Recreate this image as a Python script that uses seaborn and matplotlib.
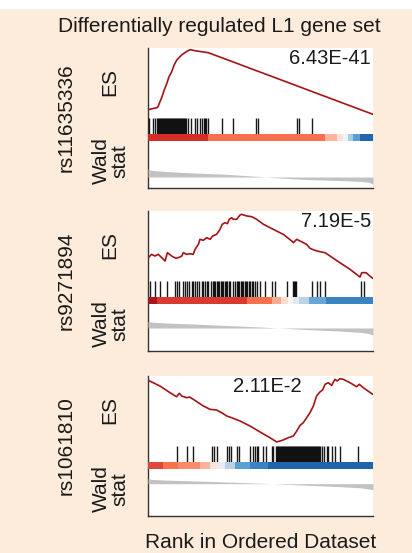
import numpy as np
import matplotlib
matplotlib.use('Agg')
import matplotlib.pyplot as plt
from matplotlib.patches import Rectangle
import seaborn as sns

sns.set_style('white')
plt.rcParams['font.family'] = ['Liberation Sans', 'DejaVu Sans']

# ---- data (rank position in % of ordered dataset) ----
snps = ['rs11635336', 'rs9271894', 'rs1061810']
pvals = ['6.43E-41', '7.19E-5', '2.11E-2']

# running enrichment score
es1_x = [0.4, 3.9, 4.4, 6.1, 7.1, 8.3, 9.3, 10.5, 11.6, 12.8, 15.0, 17.2, 18.7, 21.6, 26.8,
         32.9, 37.8, 48.0, 66.2, 72.9, 99.9]
es1_y = [0.0, 0.02, 0.03, 0.14, 0.22, 0.30, 0.38, 0.44, 0.52, 0.58, 0.64, 0.68, 0.70, 0.685, 0.665,
         0.605, 0.557, 0.456, 0.277, 0.21, -0.056]

es2_x = [0.15, 1.6, 3.1, 4.6, 7.6, 8.6, 10.5, 12.4, 13.5, 15.0, 15.7, 17.2, 18.7, 20.1, 20.9,
         22.4, 23.1, 24.6, 26.1, 27.6, 28.7, 30.5, 32.0, 33.0, 34.2, 35.3, 36.1, 37.2, 37.9, 39.4,
         40.9, 41.6, 43.9, 46.1, 48.3, 51.3, 55.7, 60.1, 63.9, 64.6, 66.1, 67.6, 70.5, 72.0, 74.2,
         76.4, 78.7, 80.9, 85.3, 89.8, 94.2, 95.0, 96.9, 99.85]
es2_y = [0.0, 0.043, 0.021, 0.043, -0.043, 0.064, 0.021, -0.008, 0.0, 0.021, 0.064, 0.043, 0.051,
         0.043, 0.107, 0.171, 0.236, 0.223, 0.257, 0.236, 0.278, 0.30, 0.364, 0.429, 0.45, 0.437,
         0.493, 0.514, 0.493, 0.493, 0.548, 0.557, 0.536, 0.527, 0.493, 0.429, 0.364, 0.30, 0.214,
         0.193, 0.236, 0.214, 0.171, 0.12, 0.094, 0.077, 0.064, 0.021, -0.065, -0.15, -0.249,
         -0.193, -0.193, -0.266]

es3_x = [0.15, 5.3, 9.8, 12.7, 13.9, 15.0, 17.2, 18.4, 20.1, 24.6, 27.6, 30.5, 32.7, 35.0, 37.2,
         40.9, 45.3, 49.8, 54.2, 57.2, 58.7, 60.1, 62.4, 64.6, 66.1, 67.6, 69.0, 70.5, 72.0, 73.5,
         74.9, 76.4, 77.6, 78.7, 80.1, 81.6, 83.1, 84.1, 85.3, 86.8, 89.8, 92.7, 93.9, 95.7, 99.85]
es3_y = [0.0, -0.064, -0.141, -0.187, -0.148, -0.179, -0.198, -0.19, -0.216, -0.293, -0.331,
         -0.339, -0.369, -0.407, -0.427, -0.464, -0.521, -0.59, -0.655, -0.704, -0.693, -0.681,
         -0.655, -0.636, -0.579, -0.513, -0.484, -0.427, -0.369, -0.293, -0.179, -0.133, -0.11,
         -0.045, -0.027, -0.057, 0.012, -0.007, 0.019, 0.012, -0.027, -0.072, -0.045, -0.084, -0.159]

# gene set hit positions
hits1 = [0.4, 2.2, 3.1, 4.0, 4.4, 4.9, 5.3, 5.8, 6.2, 6.7, 7.1, 7.6, 8.0, 8.4, 8.9, 9.3, 9.8,
         10.2, 10.7, 11.1, 11.6, 12.0, 12.4, 12.9, 13.3, 13.8, 14.2, 14.7, 15.1, 15.6, 16.0, 16.4,
         16.9, 17.8, 19.1, 20.9, 21.8, 23.1, 24.0, 24.9, 25.3, 25.8, 26.7, 32.9, 37.8, 48.0, 48.9,
         66.2, 67.1, 72.9]
hits2 = [0.9, 3.1, 5.3, 8.3, 12.0, 13.0, 13.9, 15.4, 16.4, 17.2, 18.4, 19.4, 20.1, 20.9, 21.9,
         22.8, 23.9, 24.6, 25.3, 26.1, 26.8, 27.9, 28.7, 29.3, 29.9, 30.5, 31.1, 31.7, 32.3, 32.9,
         33.5, 34.1, 34.7, 35.3, 35.9, 36.4, 37.9, 38.7, 39.4, 40.0, 40.6, 41.2, 41.8, 42.4, 43.0,
         43.6, 44.2, 44.8, 45.4, 46.0, 46.8, 47.6, 48.3, 49.8, 52.0, 54.9, 56.4, 61.6, 64.6, 65.0,
         65.5, 65.8, 72.7, 74.9, 76.4, 78.7, 94.5, 96.0]
hits3 = [13.0, 17.5, 19.9, 28.3, 29.3, 30.5, 35.3, 36.1, 36.7, 39.7, 40.6, 45.3, 46.5, 47.6,
         48.3, 49.0, 51.3, 52.4, 54.9, 55.7, 56.9, 57.4, 57.8, 58.3, 58.7, 59.1, 59.6, 60.0, 60.5,
         60.9, 61.3, 61.8, 62.2, 62.7, 63.1, 63.6, 64.0, 64.4, 64.9, 65.3, 65.8, 66.2, 66.7, 67.1,
         67.5, 68.0, 68.4, 68.9, 69.3, 69.8, 70.2, 70.6, 71.1, 71.5, 72.0, 72.4, 72.9, 73.3, 73.7,
         74.2, 74.6, 75.1, 75.5, 76.0, 76.4, 77.3, 78.2, 79.4, 80.1, 81.6, 83.1, 85.3, 93.5]

# discretised Wald stat colour bar
bar1_edges = [0, 26.8, 78.7, 83.9, 86.8, 89.0, 91.3, 94.2, 100]
bar1_colors = ['#d42d26', '#f8714f', '#fcb49c', '#fde2d6', '#eef1f7', '#a9cce4', '#5b9fd0', '#2265ad']
bar2_edges = [0, 3.9, 43.9, 54.9, 59.3, 62.2, 64.4, 67.1, 71.5, 79.1, 100]
bar2_colors = ['#a8161d', '#d93a2f', '#f6714f', '#fbab92', '#fdddd0', '#f7f7f7', '#e3e8f3',
               '#b8d3e8', '#64a6d4', '#3a84c3']
bar3_edges = [0, 6.8, 13.5, 23.1, 27.6, 30.8, 34.2, 38.7, 45.3, 53.5, 100]
bar3_colors = ['#e0463a', '#f7744f', '#f98a6a', '#fcb59d', '#fde3d8', '#eaeaf4', '#b8d3e8',
               '#5c9fd1', '#3a82c2', '#2264ab']

# ranked Wald statistic
stat1_x = [0, 1, 3, 8, 15, 25, 34, 45, 50, 55, 67, 80, 90, 95, 98, 100]
stat1_y = [4.0, 3.5, 3.15, 2.75, 2.3, 1.8, 1.4, 0.6, 0.2, -0.2, -1.1, -1.6, -1.95, -2.25, -2.65, -3.5]
stat2_x = [0, 2, 8, 20, 35, 50, 58, 70, 85, 95, 98, 100]
stat2_y = [3.25, 2.9, 2.5, 2.0, 1.25, 0.5, 0.0, -0.75, -1.5, -2.25, -2.75, -3.5]
stat3_x = [0, 2, 10, 25, 40, 50, 55, 70, 85, 95, 100]
stat3_y = [2.5, 2.15, 1.75, 1.25, 0.65, 0.25, 0.0, -0.75, -1.5, -2.15, -3.0]

es_x = [es1_x, es2_x, es3_x]
es_y = [es1_y, es2_y, es3_y]
es_lims = [(-0.1, 0.72), (-0.3, 0.6), (-0.75, 0.05)]
hits = [hits1, hits2, hits3]
bar_edges = [bar1_edges, bar2_edges, bar3_edges]
bar_colors = [bar1_colors, bar2_colors, bar3_colors]
stat_x = [stat1_x, stat2_x, stat3_x]
stat_y = [stat1_y, stat2_y, stat3_y]
stat_lims = [(-5.5, 18), (-11.5, 12), (-16.5, 7.5)]
pval_pos = [(0.99, 'right'), (0.99, 'right'), (0.53, 'center')]

# ---- layout (pixels) ----
W, H = 412, 553
BG = '#fdecdb'
TXT = '#1a1a1a'
L, R = 148, 373
tops = [48, 211, 376]
PH = 140

fig = plt.figure(figsize=(W / 100, H / 100), dpi=100, facecolor=BG)
fig.add_artist(Rectangle((0, 1 - 8 / H), 1, 8 / H, transform=fig.transFigure,
                         color='white', zorder=0))


def rect(top, h):
    return [L / W, 1 - (top + h) / H, (R - L) / W, h / H]


for i in range(3):
    T = tops[i]
    frame = fig.add_axes(rect(T, PH))
    frame.set_facecolor('white')
    frame.set_xticks([])
    frame.set_yticks([])
    for s in ['top', 'right']:
        frame.spines[s].set_visible(False)
    for s in ['left', 'bottom']:
        frame.spines[s].set_color('#333333')
        frame.spines[s].set_linewidth(1.0)

    # ES curve
    ax_es = fig.add_axes(rect(T, 70))
    sns.lineplot(x=es_x[i], y=es_y[i], ax=ax_es, color='#a31515', linewidth=1.2,
                 estimator=None, sort=False)
    ax_es.set_xlim(0, 100)
    ax_es.set_ylim(*es_lims[i])
    ax_es.text(pval_pos[i][0], 0.99, pvals[i], transform=ax_es.transAxes,
               ha=pval_pos[i][1], va='top', fontsize=14.5, color=TXT)

    # hits
    ax_hit = fig.add_axes(rect(T + 70, 16))
    ax_hit.vlines(hits[i], 0, 1, color='black', linewidth=1.0, alpha=0.9)
    ax_hit.set_xlim(0, 100)
    ax_hit.set_ylim(0, 1)

    # colour bar
    ax_bar = fig.add_axes(rect(T + 86, 7))
    e = bar_edges[i]
    ax_bar.bar(e[:-1], [1] * (len(e) - 1), width=np.diff(e), align='edge',
               color=bar_colors[i], linewidth=0)
    ax_bar.set_xlim(0, 100)
    ax_bar.set_ylim(0, 1)

    # Wald stat
    ax_st = fig.add_axes(rect(T + 93, 47))
    ax_st.fill_between(stat_x[i], stat_y[i], 0, color='#c2c2c2', linewidth=0)
    ax_st.set_xlim(0, 100)
    ax_st.set_ylim(*stat_lims[i])

    for a in [ax_es, ax_hit, ax_bar, ax_st]:
        a.set_facecolor('none')
        a.set_xticks([])
        a.set_yticks([])
        a.set_xlabel('')
        a.set_ylabel('')
        for s in a.spines.values():
            s.set_visible(False)

    # side labels
    fig.text(66 / W, 1 - (T + PH / 2) / H, snps[i], rotation=90, ha='center', va='center',
             fontsize=15, color=TXT)
    fig.text(110 / W, 1 - (T + 34) / H, 'ES', rotation=90, ha='center', va='center',
             fontsize=15, color=TXT)
    fig.text(111 / W, 1 - (T + 113) / H, 'Wald\nstat', rotation=90, ha='center', va='center',
             fontsize=15, color=TXT, linespacing=0.95)

fig.text(219 / W, 1 - 27 / H, 'Differentially regulated L1 gene set', ha='center', va='center',
         fontsize=15, color=TXT)
fig.text(260.5 / W, 1 - 542 / H, 'Rank in Ordered Dataset', ha='center', va='center',
         fontsize=15, color=TXT)

fig.savefig('out.png', dpi=100, facecolor=BG)
